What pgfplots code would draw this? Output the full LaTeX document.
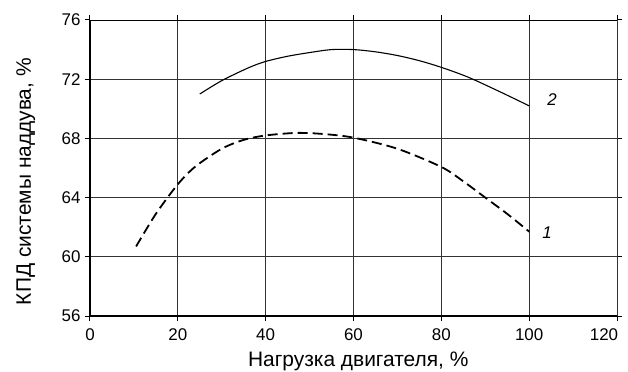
\documentclass[border=0pt]{standalone}
\usepackage{pgfplots}
\pgfplotsset{compat=1.18}
\usepackage{fontspec}
\setmainfont{Liberation Sans}
\begin{document}
\begin{tikzpicture}
\useasboundingbox (-90bp,-56bp) rectangle (538bp,316bp);
\begin{axis}[
  scale only axis,
  width=527bp, height=296bp,
  xmin=0, xmax=120, ymin=56, ymax=76,
  xtick={0,20,...,100}, ytick={56,60,...,76},
  extra x ticks={120},
  extra x tick style={xticklabel style={xshift=-13bp}},
  grid=major,
  major grid style={black!80, line width=0.8bp},
  axis line style={black, line width=0.8bp},
  tick align=outside,
  tick style={black, line width=1bp},
  major tick length=5bp,
  /pgf/number format/assume math mode=true,
  ticklabel style={font=\fontsize{17}{19}\selectfont},
  xticklabel style={yshift=-4bp},
  yticklabel style={xshift=-1bp},
  label style={font=\fontsize{21}{24}\selectfont},
  xlabel={Нагрузка двигателя, \%},
  ylabel={КПД системы наддува, \%},
  xlabel style={at={(axis description cs:0.509,-0.169)}, anchor=base},
  ylabel style={at={(axis description cs:-0.122,0.454)}, anchor=center},
  clip=false,
]
\draw[line width=1.8bp] (rel axis cs:0,1) -- (rel axis cs:0,0) -- (rel axis cs:1,0);
\addplot[black, line width=1.1bp, smooth, tension=0.5] coordinates {
  (25,71.0) (30,71.9) (36,72.76) (40,73.2) (45,73.55) (50,73.8) (55,74.0) (60,74.0) (65,73.85) (70,73.6) (75,73.25) (80,72.8) (86,72.15) (93,71.2) (100,70.2)
};
\addplot[black, line width=1.8bp, dash pattern=on 10bp off 5bp, smooth, tension=0.5] coordinates {
  (10.5,60.7) (15,62.9) (20,64.9) (24,66.1) (30,67.3) (35,67.9) (40,68.2) (47,68.37) (53,68.3) (60,68.05) (70,67.3) (80,66.07) (85,65.1) (90,64.0) (95,62.9) (100,61.7)
};
\node[font=\itshape\fontsize{17}{19}\selectfont] at (axis cs:105.2,70.6) {2};
\node[font=\itshape\fontsize{17}{19}\selectfont] at (axis cs:104.1,61.6) {1};
\end{axis}
\end{tikzpicture}
\end{document}
